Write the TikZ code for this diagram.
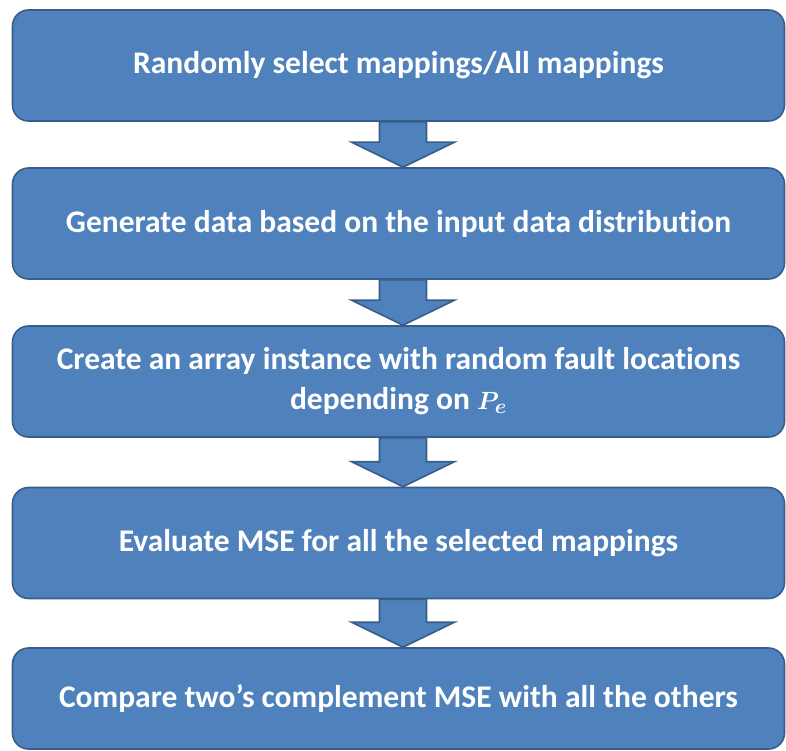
\documentclass[tikz,border=0pt]{standalone}
\usepackage{fontspec}
\setmainfont{Carlito}[Ligatures=NoCommon]
\usetikzlibrary{positioning}
\definecolor{boxfill}{HTML}{4F81BD}
\definecolor{boxline}{HTML}{385D8A}

\begin{document}
\begin{tikzpicture}[
  x=1pt, y=-1pt,
  font=\fontsize{31.5}{40}\selectfont\bfseries,
  stage/.style  = {draw=boxline, line width=1.6pt, fill=boxfill, text=white,
                   rounded corners=16pt, align=center, inner sep=0pt,
                   minimum width=772pt, minimum height=111pt},
  blockarr/.style = {draw=boxline, line width=1.6pt, fill=boxfill, line join=miter},
]
\useasboundingbox (0,0) rectangle (786,751);

% ---------- stages ----------
\node[stage] (sel) at (398.5,65.5) {Randomly select mappings/All mappings};
\node[stage] (gen) at (398.5,223.5) {Generate data based on the input data distribution};
\node[stage] (arr) at (398.5,381.5)
  {Create an array instance with random fault locations\\ depending on {\boldmath$P_e$}};
\node[stage] (mse) at (398.5,543) {Evaluate MSE for all the selected mappings};
\node[stage, minimum height=101pt] (cmp) at (398.5,698.5)
  {Compare two’s complement MSE with all the others};

% ---------- block arrows ----------
\foreach \a/\b in {sel/gen, gen/arr, arr/mse, mse/cmp}
  \draw[blockarr] ([xshift=-19pt]\a.south)
    -- ([xshift=-19pt,yshift=25pt]\b.north)
    -- ([xshift=-47pt,yshift=25pt]\b.north)
    -- ([xshift=4.5pt]\b.north)
    -- ([xshift=56pt,yshift=25pt]\b.north)
    -- ([xshift=28pt,yshift=25pt]\b.north)
    -- ([xshift=28pt]\a.south) -- cycle;

\end{tikzpicture}
\end{document}
